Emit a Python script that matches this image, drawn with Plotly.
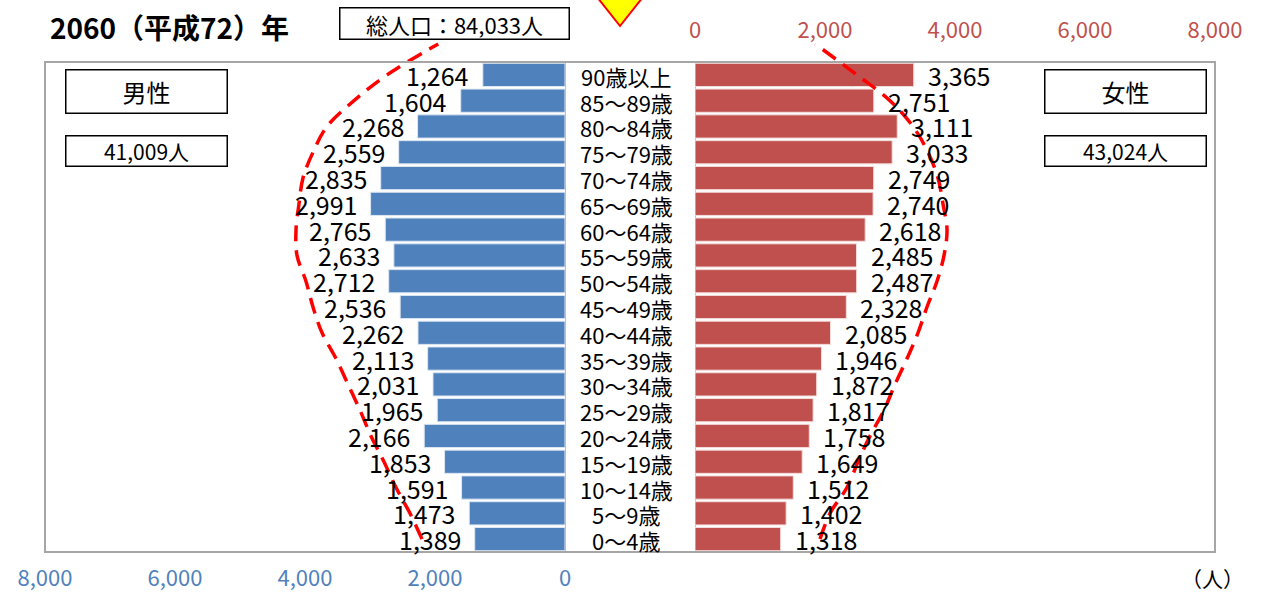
import plotly.graph_objects as go

# ---------------- data (bottom -> top) ----------------
ages = ["0～4歳", "5～9歳", "10～14歳", "15～19歳", "20～24歳", "25～29歳", "30～34歳",
        "35～39歳", "40～44歳", "45～49歳", "50～54歳", "55～59歳", "60～64歳", "65～69歳",
        "70～74歳", "75～79歳", "80～84歳", "85～89歳", "90歳以上"]
male = [1389, 1473, 1591, 1853, 2166, 1965, 2031, 2113, 2262, 2536,
        2712, 2633, 2765, 2991, 2835, 2559, 2268, 1604, 1264]
female = [1318, 1402, 1512, 1649, 1758, 1817, 1872, 1946, 2085, 2328,
          2487, 2485, 2618, 2740, 2749, 3033, 3111, 2751, 3365]

# dashed outline (reference pyramid), read per age row
male_outline = [2200, 2385, 2600, 2785, 2985, 3154, 3338, 3523, 3738, 3877,
                3985, 4123, 4138, 4092, 4031, 3877, 3662, 3246, 2738]
female_outline = [1923, 2077, 2338, 2508, 2692, 2908, 3077, 3262, 3431, 3569,
                  3723, 3831, 3877, 3815, 3738, 3585, 3354, 3000, 2492]
outline_top_row = 19.2
male_outline_top = 1950
female_outline_top = 1850

male_ticks = [0, 2000, 4000, 6000, 8000]
female_ticks = [0, 2000, 4000, 6000, 8000]

title_text = "2060（平成72）年"
total_text = "総人口：84,033人"
male_total = "41,009人"
female_total = "43,024人"

# ---------------- styling ----------------
BLUE = "#4f81bd"
RED = "#c0504d"
FONT = "Noto Sans CJK JP"
W, H = 1263, 593
ML, MR, MT, MB = 45, 48, 0, 41
PW = W - ML - MR   # 1170
PH = H - MT - MB   # 552
FRAME_TOP_PX = 62
ydom_top = (PH - FRAME_TOP_PX) / PH
row_px = (PH - FRAME_TOP_PX) / len(ages)
y3_top = -0.5 + PH / row_px

x_m_dom = [0, 520 / PW]
x_f_dom = [650 / PW, 1]
x_c_dom = [520 / PW, 650 / PW]

fig = go.Figure()

fig.add_trace(go.Bar(
    y=ages, x=male, orientation="h", xaxis="x", yaxis="y",
    marker=dict(color=BLUE, line=dict(color="#dce6f2", width=1)),
    showlegend=False, hoverinfo="x+y"))
fig.add_trace(go.Bar(
    y=ages, x=female, orientation="h", xaxis="x2", yaxis="y",
    marker=dict(color=RED, line=dict(color="#f2dcdb", width=1)),
    showlegend=False, hoverinfo="x+y"))

# dashed outlines
rows = list(range(len(ages)))
fig.add_trace(go.Scatter(
    x=male_outline + [male_outline_top], y=rows + [outline_top_row],
    mode="lines", xaxis="x3", yaxis="y3", line=dict(color="#ff0000", width=3.5, dash="16px,9px", shape="spline"),
    showlegend=False, hoverinfo="skip"))
fig.add_trace(go.Scatter(
    x=female_outline + [female_outline_top], y=rows + [outline_top_row],
    mode="lines", xaxis="x4", yaxis="y3", line=dict(color="#ff0000", width=3.5, dash="16px,9px", shape="spline"),
    showlegend=False, hoverinfo="skip"))

annotations = []
for a, m, f in zip(ages, male, female):
    annotations.append(dict(x=m, y=a, xref="x", yref="y", text=f"{m:,}", showarrow=False,
                            xanchor="right", xshift=-12, yshift=0, font=dict(family=FONT, size=25, color="black")))
    annotations.append(dict(x=f, y=a, xref="x2", yref="y", text=f"{f:,}", showarrow=False,
                            xanchor="left", xshift=12, yshift=0, font=dict(family=FONT, size=25, color="black")))
    # age label in the centre column
    annotations.append(dict(x=0.47, y=a, xref="x5", yref="y", text=a, showarrow=False,
                            xanchor="center", yshift=-1, font=dict(family=FONT, size=22, color="black")))

def px2x(px):
    return (px - ML) / PW

def py2y(py):
    return (PH - (py - MT)) / PH

box = dict(xref="paper", yref="paper", showarrow=False, xanchor="center", yanchor="middle",
           bordercolor="black", borderwidth=1.5, bgcolor="white")
annotations += [
    dict(x=px2x(48), y=py2y(27), xref="paper", yref="paper", text=f"<b>{title_text}</b>", showarrow=False,
         xanchor="left", yanchor="middle", font=dict(family=FONT, size=28, color="black")),
    dict(x=px2x(454), y=py2y(23.5), text=total_text, width=226, height=28,
         font=dict(family=FONT, size=22, color="black"), **box),
    dict(x=px2x(146.5), y=py2y(91.5), text="男性", width=158, height=40,
         font=dict(family=FONT, size=24, color="black"), **box),
    dict(x=px2x(146.5), y=py2y(151), text=male_total, width=158, height=27,
         font=dict(family=FONT, size=21, color="black"), **box),
    dict(x=px2x(1125), y=py2y(91.5), text="女性", width=158, height=40,
         font=dict(family=FONT, size=24, color="black"), **box),
    dict(x=px2x(1125), y=py2y(151), text=female_total, width=158, height=27,
         font=dict(family=FONT, size=21, color="black"), **box),
    dict(x=px2x(1212), y=py2y(578), xref="paper", yref="paper", text="（人）", showarrow=False,
         xanchor="center", yanchor="middle", font=dict(family=FONT, size=21, color="black")),
]

shapes = [
    dict(type="rect", xref="paper", yref="paper", x0=0, x1=1, y0=0, y1=ydom_top,
         line=dict(color="#a6a6a6", width=2), layer="above"),
    dict(type="path", xref="paper", yref="paper",
         path=f"M {px2x(597)} {py2y(-3)} L {px2x(643)} {py2y(-3)} L {px2x(620)} {py2y(26)} Z",
         fillcolor="#ffff00", line=dict(color="#ff0000", width=2), layer="above"),
]

axis_common = dict(showgrid=False, zeroline=True, zerolinecolor="#bfbfbf", zerolinewidth=1,
                   showline=False, ticks="outside", tickcolor="rgba(0,0,0,0)",
                   tickformat=",", fixedrange=True, automargin=False)

fig.update_layout(
    width=W, height=H, margin=dict(l=ML, r=MR, t=MT, b=MB, autoexpand=False),
    paper_bgcolor="white", plot_bgcolor="rgba(0,0,0,0)",
    bargap=0.1, barmode="overlay", showlegend=False,
    xaxis=dict(domain=x_m_dom, range=[8000, 0], anchor="y", side="bottom",
               tickvals=male_ticks, ticklen=7, tickfont=dict(family=FONT, size=22, color=BLUE), **axis_common),
    xaxis2=dict(domain=x_f_dom, range=[0, 8000], anchor="y", side="top",
                tickvals=female_ticks, ticklen=14, tickfont=dict(family=FONT, size=22, color=RED), **axis_common),
    xaxis3=dict(domain=x_m_dom, range=[8000, 0], anchor="y3", visible=False),
    xaxis4=dict(domain=x_f_dom, range=[0, 8000], anchor="y3", visible=False),
    xaxis5=dict(domain=x_c_dom, range=[0, 1], anchor="y", visible=False),
    yaxis=dict(domain=[0, ydom_top], type="category", categoryorder="array", categoryarray=ages,
               range=[-0.5, len(ages) - 0.5], showticklabels=False, showgrid=False, ticks="",
               anchor="x", fixedrange=True, automargin=False),
    yaxis3=dict(domain=[0, 1], range=[-0.5, y3_top], anchor="x3", visible=False),
    annotations=annotations,
    shapes=shapes,
)

fig.write_html("out.html", config={"displayModeBar": False, "responsive": False},
               post_script="document.body.style.margin='0';document.body.style.padding='0';"
                           "document.body.style.overflow='hidden';")
